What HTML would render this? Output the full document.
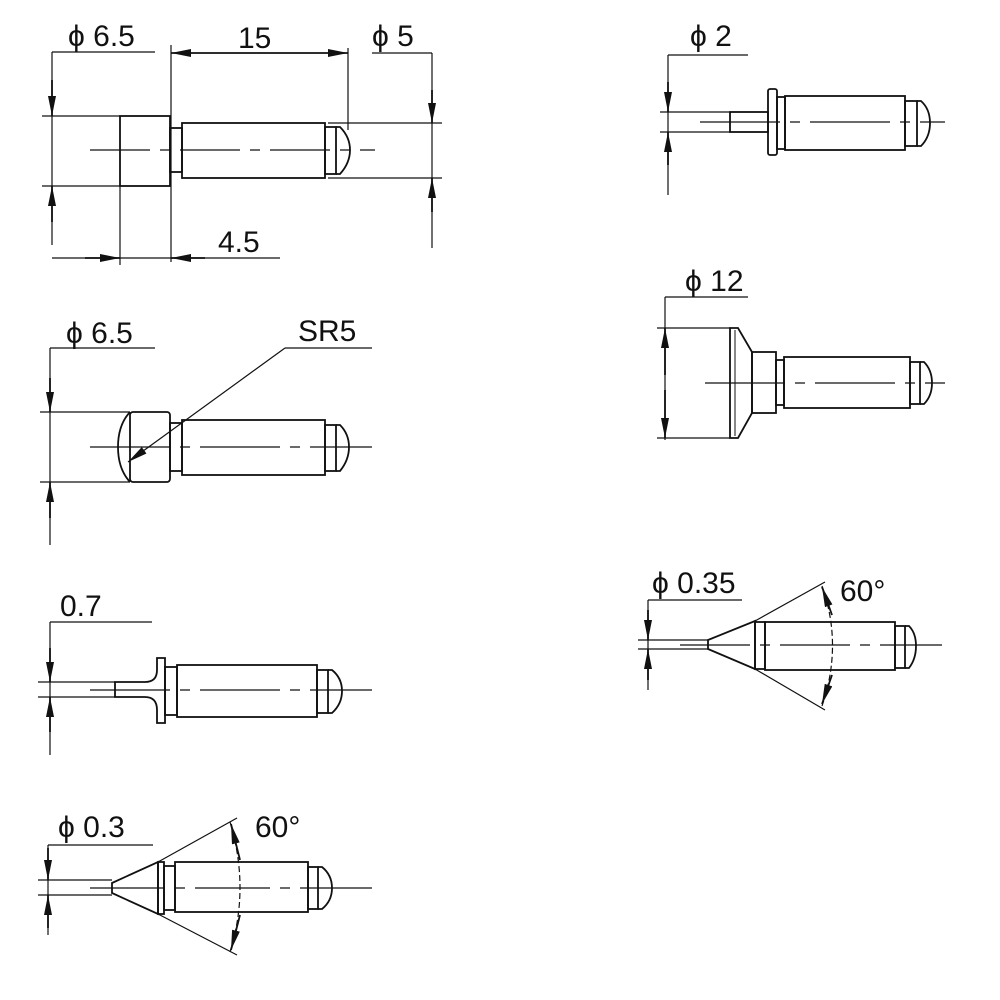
<!DOCTYPE html>
<html><head><meta charset="utf-8"><style>
html,body{margin:0;padding:0;background:#fff}
svg{display:block}
text{font-family:"Liberation Sans",sans-serif;font-size:30px;fill:#111}
</style></head><body>
<svg width="1000" height="1000" viewBox="0 0 1000 1000" xmlns="http://www.w3.org/2000/svg">
<defs>
<marker id="a" viewBox="0 0 20 8" refX="20" refY="4" markerWidth="20" markerHeight="8" markerUnits="userSpaceOnUse" orient="auto"><path d="M0,0 L20,4 L0,8 z" fill="#111"/></marker>
</defs>
<g stroke="#111" stroke-width="1.8" fill="none">
<!-- Drawing 1 -->
<line x1="90" y1="150" x2="375" y2="150" stroke-dasharray="60,10,10,10" stroke-width="1.2"/>
<rect x="120" y="116" width="50" height="70"/>
<rect x="170" y="128" width="12" height="44"/>
<rect x="182" y="123" width="143" height="55"/>
<rect x="325" y="127" width="11" height="47"/>
<path d="M336,127 L340,127 Q350,137 350,150 Q350,163 340,174 L336,174"/>
<g stroke-width="1.2">
<line x1="52" y1="52" x2="155" y2="52"/>
<line x1="52" y1="52" x2="52" y2="245"/>
<line x1="42" y1="116" x2="120" y2="116"/>
<line x1="42" y1="186" x2="120" y2="186"/>
<line x1="171" y1="45" x2="171" y2="262"/>
<line x1="348" y1="48" x2="348" y2="130"/>
<line x1="372" y1="53" x2="432" y2="53"/>
<line x1="432" y1="53" x2="432" y2="248"/>
<line x1="328" y1="123" x2="442" y2="123"/>
<line x1="328" y1="178" x2="442" y2="178"/>
<line x1="120" y1="186" x2="120" y2="265"/>
<line x1="52" y1="258" x2="280" y2="258"/>
</g>
<line x1="52" y1="80" x2="52" y2="116" marker-end="url(#a)"/>
<line x1="52" y1="222" x2="52" y2="186" marker-end="url(#a)"/>
<line x1="260" y1="53" x2="171" y2="53" marker-end="url(#a)"/>
<line x1="260" y1="53" x2="348" y2="53" marker-end="url(#a)"/>
<line x1="432" y1="90" x2="432" y2="123" marker-end="url(#a)"/>
<line x1="432" y1="212" x2="432" y2="178" marker-end="url(#a)"/>
<line x1="85" y1="258" x2="120" y2="258" marker-end="url(#a)"/>
<line x1="205" y1="258" x2="171" y2="258" marker-end="url(#a)"/>

<!-- Drawing 2 SR5 -->
<line x1="90" y1="447" x2="372" y2="447" stroke-dasharray="80,10,10,10" stroke-width="1.2"/>
<path d="M130,412 Q118,425 118,447 Q118,469 130,482"/>
<rect x="130" y="412" width="40" height="70" rx="3"/>
<rect x="170" y="423" width="12" height="48"/>
<rect x="182" y="420" width="143" height="55"/>
<rect x="325" y="425" width="11" height="46"/>
<path d="M336,425 L340,425 Q349,434 349,447 Q349,460 340,471 L336,471"/>
<g stroke-width="1.2">
<line x1="50" y1="348" x2="155" y2="348"/>
<line x1="50" y1="348" x2="50" y2="545"/>
<line x1="40" y1="412" x2="130" y2="412"/>
<line x1="40" y1="482" x2="130" y2="482"/>
<line x1="285" y1="348" x2="372" y2="348"/>
<line x1="285" y1="348" x2="128" y2="462" marker-end="url(#a)"/>
</g>
<line x1="50" y1="378" x2="50" y2="412" marker-end="url(#a)"/>
<line x1="50" y1="518" x2="50" y2="482" marker-end="url(#a)"/>

<!-- Drawing 3 0.7 -->
<line x1="90" y1="690" x2="372" y2="690" stroke-dasharray="80,10,10,10" stroke-width="1.2"/>
<path d="M115,682 L145,682 Q157,682 157,670 L157,658 L165,658 L165,723 L157,723 L157,710 Q157,697 145,697 L115,697 z"/>
<rect x="165" y="667" width="12" height="48"/>
<rect x="177" y="665" width="140" height="52"/>
<rect x="317" y="670" width="11" height="43"/>
<path d="M328,670 L332,670 Q342,678 342,691 Q342,704 332,713 L328,713"/>
<g stroke-width="1.2">
<line x1="50" y1="622" x2="152" y2="622"/>
<line x1="50" y1="622" x2="50" y2="755"/>
<line x1="38" y1="682" x2="115" y2="682"/>
<line x1="38" y1="697" x2="115" y2="697"/>
</g>
<line x1="50" y1="648" x2="50" y2="682" marker-end="url(#a)"/>
<line x1="50" y1="732" x2="50" y2="697" marker-end="url(#a)"/>

<!-- Drawing 4 0.3 -->
<line x1="90" y1="888" x2="372" y2="888" stroke-dasharray="75,10,10,10" stroke-width="1.2"/>
<path d="M112,883 L158,862 L158,914 L112,893 z"/>
<rect x="158" y="862" width="6" height="52"/>
<rect x="164" y="866" width="11" height="44"/>
<rect x="175" y="862" width="133" height="50"/>
<rect x="308" y="867" width="10" height="42"/>
<path d="M318,867 L322,867 Q332,875 332,888 Q332,901 322,909 L318,909"/>
<g stroke-width="1.2">
<line x1="158" y1="862" x2="237" y2="818"/>
<line x1="158" y1="914" x2="237" y2="955"/>
<path d="M230,822 Q250,888 230,952" stroke-dasharray="6,3"/>
<line x1="48" y1="845" x2="153" y2="845"/>
<line x1="48" y1="845" x2="48" y2="935"/>
<line x1="38" y1="880" x2="112" y2="880"/>
<line x1="38" y1="895" x2="112" y2="895"/>
</g>
<line x1="240" y1="860" x2="231" y2="824" marker-end="url(#a)"/>
<line x1="240" y1="915" x2="231" y2="950" marker-end="url(#a)"/>
<line x1="48" y1="848" x2="48" y2="880" marker-end="url(#a)"/>
<line x1="48" y1="928" x2="48" y2="895" marker-end="url(#a)"/>

<!-- Drawing 5 phi2 -->
<line x1="700" y1="122" x2="945" y2="122" stroke-dasharray="80,10,10,10" stroke-width="1.2"/>
<rect x="730" y="112" width="38" height="20"/>
<rect x="768" y="89" width="9" height="66" rx="2"/>
<rect x="777" y="97" width="8" height="52"/>
<rect x="785" y="96" width="120" height="54"/>
<rect x="905" y="101" width="12" height="45"/>
<path d="M917,101 L921,101 Q930,109 930,123 Q930,137 921,146 L917,146"/>
<g stroke-width="1.2">
<line x1="668" y1="55" x2="748" y2="55"/>
<line x1="668" y1="55" x2="668" y2="195"/>
<line x1="660" y1="112" x2="730" y2="112"/>
<line x1="660" y1="132" x2="730" y2="132"/>
</g>
<line x1="668" y1="82" x2="668" y2="112" marker-end="url(#a)"/>
<line x1="668" y1="165" x2="668" y2="132" marker-end="url(#a)"/>

<!-- Drawing 6 phi12 -->
<line x1="705" y1="383" x2="945" y2="383" stroke-dasharray="80,10,10,10" stroke-width="1.2"/>
<path d="M730,328 L738,328 L752,352 L752,413 L738,438 L730,438 z"/>
<line x1="735" y1="330" x2="735" y2="436" stroke-width="1"/>
<rect x="752" y="352" width="24" height="61"/>
<rect x="776" y="360" width="8" height="45"/>
<rect x="784" y="357" width="126" height="51"/>
<rect x="910" y="362" width="10" height="42"/>
<path d="M920,362 L924,362 Q932,370 932,383 Q932,396 924,404 L920,404"/>
<g stroke-width="1.2">
<line x1="665" y1="297" x2="748" y2="297"/>
<line x1="665" y1="297" x2="665" y2="440"/>
<line x1="657" y1="328" x2="730" y2="328"/>
<line x1="657" y1="438" x2="730" y2="438"/>
</g>
<line x1="665" y1="375" x2="665" y2="328" marker-end="url(#a)"/>
<line x1="665" y1="390" x2="665" y2="438" marker-end="url(#a)"/>

<!-- Drawing 7 phi0.35 -->
<line x1="680" y1="645" x2="942" y2="645" stroke-dasharray="70,10,10,10" stroke-width="1.2"/>
<path d="M708,640 L755,621 L755,669 L708,649 z"/>
<rect x="755" y="622" width="10" height="47"/>
<rect x="765" y="622" width="130" height="48"/>
<rect x="895" y="626" width="10" height="42"/>
<path d="M905,626 L909,626 Q916,633 916,646 Q916,659 909,668 L905,668"/>
<g stroke-width="1.2">
<line x1="755" y1="621" x2="825" y2="582"/>
<line x1="755" y1="669" x2="825" y2="710"/>
<path d="M822,586 Q843,645 822,706" stroke-dasharray="6,3"/>
<line x1="648" y1="600" x2="742" y2="600"/>
<line x1="648" y1="600" x2="648" y2="690"/>
<line x1="638" y1="640" x2="708" y2="640"/>
<line x1="638" y1="649" x2="708" y2="649"/>
</g>
<line x1="832" y1="615" x2="822" y2="587" marker-end="url(#a)"/>
<line x1="832" y1="675" x2="822" y2="704" marker-end="url(#a)"/>
<line x1="648" y1="610" x2="648" y2="640" marker-end="url(#a)"/>
<line x1="648" y1="680" x2="648" y2="649" marker-end="url(#a)"/>
</g>
<text x="68" y="46">ϕ 6.5</text>
<text x="238" y="48">15</text>
<text x="372" y="46">ϕ 5</text>
<text x="218" y="252">4.5</text>
<text x="66" y="343">ϕ 6.5</text>
<text x="298" y="341">SR5</text>
<text x="60" y="616">0.7</text>
<text x="58" y="837">ϕ 0.3</text>
<text x="255" y="837">60°</text>
<text x="690" y="46">ϕ 2</text>
<text x="685" y="291">ϕ 12</text>
<text x="652" y="593">ϕ 0.35</text>
<text x="840" y="601">60°</text>
</svg>
</body></html>
